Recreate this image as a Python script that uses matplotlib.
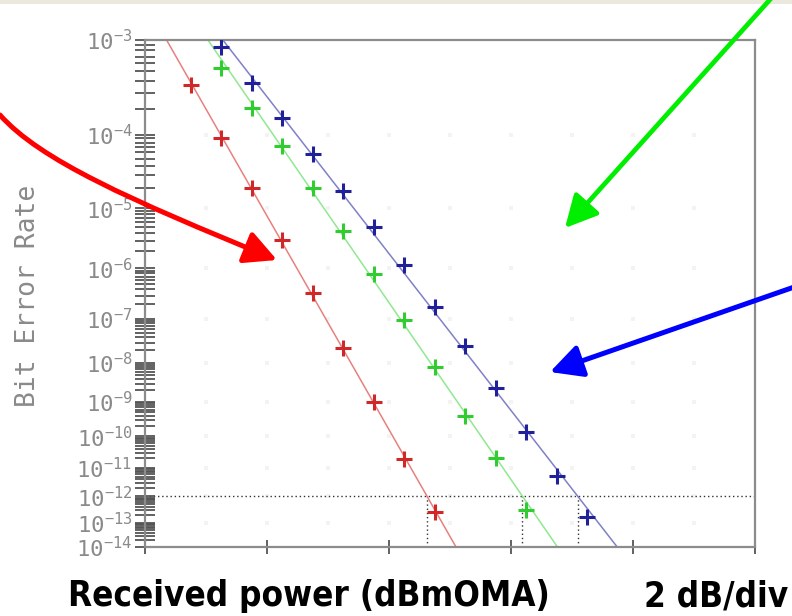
import numpy as np
import matplotlib
matplotlib.use('Agg')
import matplotlib.pyplot as plt
from matplotlib.patches import FancyArrowPatch, Rectangle
from matplotlib.path import Path

# received optical power (dBm OMA) and measured bit error rate of each trace
power_red = [-19.25, -18.75, -18.25, -17.75, -17.25, -16.75, -16.25, -15.75, -15.25]
ber_red = [3.6e-4, 9.1e-5, 2.0e-5, 3.1e-6, 3.4e-7, 2.3e-8, 9.8e-10, 1.9e-11, 2.6e-13]

power_green = [-18.75, -18.25, -17.75, -17.25, -16.75, -16.25, -15.75, -15.25,
               -14.75, -14.25, -13.75]
ber_green = [5.4e-4, 2.05e-4, 7.2e-5, 2.0e-5, 4.4e-6, 7.8e-7, 9.5e-8, 7.9e-9,
             3.9e-10, 2.1e-11, 3.1e-13]

power_blue = [-18.75, -18.25, -17.75, -17.25, -16.75, -16.25, -15.75, -15.25,
              -14.75, -14.25, -13.75, -13.25, -12.75]
ber_blue = [8.6e-4, 3.8e-4, 1.58e-4, 5.7e-5, 1.8e-5, 5.1e-6, 1.14e-6, 1.8e-7,
            2.5e-8, 2.3e-9, 1.3e-10, 5.2e-12, 1.6e-13]

ber_target = 1e-12
x_range = (-20, -10)
decades = list(range(3, 15))

W, H = 792, 616


def ber_fwd(b):
    b = np.clip(np.asarray(b, dtype=float), 1e-300, 0.999999)
    return -np.log10(-np.log10(b))


def ber_inv(v):
    return 10.0 ** (-(10.0 ** (-np.asarray(v, dtype=float))))


def px(x, y):
    # pixel position -> figure fraction
    return (x / W, 1 - y / H)


fig = plt.figure(figsize=(W / 100, H / 100), dpi=100)
ax = fig.add_axes([145 / W, 1 - 547 / H, 610 / W, 507 / H])
ax.set_yscale('function', functions=(ber_fwd, ber_inv))
ax.set_xlim(*x_range)
ax.set_ylim(10.0 ** -decades[-1], 10.0 ** -decades[0])

# faint dot grid at every dB and decade
gx, gy = np.meshgrid(np.arange(x_range[0] + 1, x_range[1]),
                     [10.0 ** -n for n in decades[1:-1]])
ax.scatter(gx.ravel(), gy.ravel(), marker='s', s=9, color='#f3f3f3', lw=0, zorder=0)

traces = [
    (power_red, ber_red, '#d02828', '#e88080'),
    (power_green, ber_green, '#30cc30', '#90e890'),
    (power_blue, ber_blue, '#202098', '#8080c8'),
]

for power, ber, mcol, lcol in traces:
    slope, icpt = np.polyfit(power, ber_fwd(ber), 1)
    xs = np.array(x_range, dtype=float)
    ax.plot(xs, ber_inv(slope * xs + icpt), color=lcol, lw=1.1, zorder=2)
    ax.plot(power, ber, ls='none', marker='+', ms=12, mew=2.2, color=mcol, zorder=3)
    # power needed for the target error rate
    xc = (ber_fwd(ber_target) - icpt) / slope
    ax.plot([xc, xc], [10.0 ** -decades[-1], ber_target], color='#333333',
            lw=1, ls=(0, (1, 2)), zorder=1)

ax.axhline(ber_target, color='#333333', lw=1, ls=(0, (1, 2)), zorder=1)

# axes styling
for s in ax.spines.values():
    s.set_color('#8c8c8c')
    s.set_linewidth(1.6)

ax.set_xticks(np.arange(x_range[0], x_range[1] + 1, 2))
ax.tick_params(axis='x', direction='inout', length=10, width=1.3,
               color='#555555', labelbottom=False)

ax.set_yticks([10.0 ** -n for n in decades])
ax.set_yticks([k * 10.0 ** -(n + 1) for n in decades[:-1] for k in range(2, 10)],
              minor=True)
ax.set_yticklabels(['$\\mathregular{10^{-%d}}$' % n for n in decades],
                   family='DejaVu Sans Mono', fontsize=16, color='#8a8a8a')
ax.tick_params(axis='y', which='both', direction='inout', length=14, width=1.3,
               color='#555555', pad=2)

fig.text(*px(28, 296), 'Bit Error Rate', rotation=90, ha='center', va='center',
         family='DejaVu Sans Mono', fontsize=19, color='#8a8a8a')

# window strip along the top
fig.add_artist(Rectangle(px(0, 4), 1, 4 / H, transform=fig.transFigure,
                         color='#ebe9dd', lw=0))

t1 = fig.text(*px(68, 606), 'Received power (dBmOMA)', ha='left', va='baseline',
              family='DejaVu Sans', fontstretch='condensed', fontweight='bold',
              fontsize=30, color='black')
t2 = fig.text(*px(788, 606), '2 dB/div', ha='right', va='baseline',
              family='DejaVu Sans', fontstretch='condensed', fontweight='bold',
              fontsize=30, color='black')
# size the caption so it spans the same width whichever face is found
fig.canvas.draw()
rend = fig.canvas.get_renderer()
fs = 30 * 481 / t1.get_window_extent(rend).width
t1.set_fontsize(fs)
t2.set_fontsize(fs)

# pointer arrows
style = '-|>,head_length=19.5,head_width=10'
red_path = Path([px(0, 115), px(40, 160), px(130, 200), px(277, 260)],
                [Path.MOVETO, Path.CURVE4, Path.CURVE4, Path.CURVE4])
fig.add_artist(FancyArrowPatch(path=red_path, arrowstyle=style, color='#ff0000',
                               lw=3.6, transform=fig.transFigure))
fig.add_artist(FancyArrowPatch(px(775, -6), px(565, 228), arrowstyle=style,
                               color='#00ee00', lw=3.4, shrinkA=0, shrinkB=0,
                               transform=fig.transFigure))
fig.add_artist(FancyArrowPatch(px(800, 285), px(550, 372), arrowstyle=style,
                               color='#0000ff', lw=3.6, shrinkA=0, shrinkB=0,
                               transform=fig.transFigure))

fig.savefig('out.png', dpi=100)
